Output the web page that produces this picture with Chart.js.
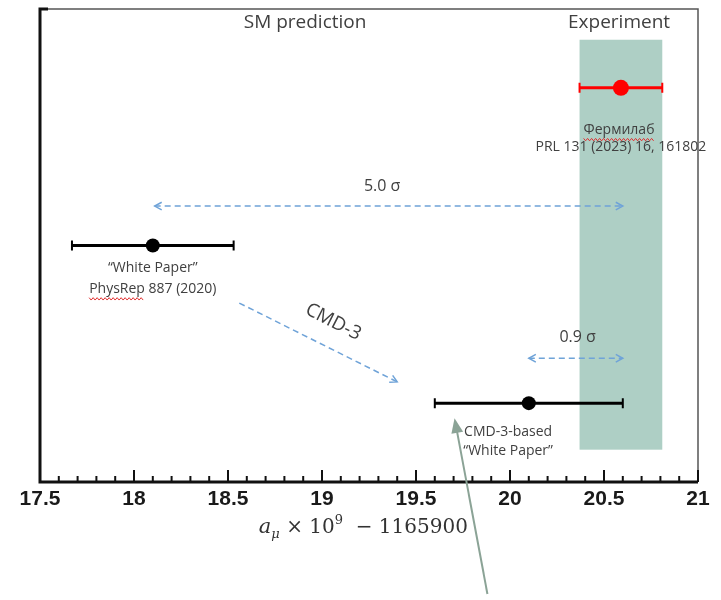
<!DOCTYPE html>
<html>
<head>
<meta charset="utf-8">
<script src="https://cdn.jsdelivr.net/npm/chart.js@4/dist/chart.umd.min.js"></script>
<style>
  body { margin: 0; background: #fff; }
  #wrap { width: 721px; height: 600px; }
</style>
</head>
<body>
<div id="wrap"><canvas id="muonChart"></canvas></div>
<script>
// x range and tick labels
const xTicks = [17.5, 18, 18.5, 19, 19.5, 20, 20.5, 21];

// results: a_mu x 10^9 - 1165900
const resultNames = ['White Paper 2020', 'Fermilab 2023', 'CMD-3-based White Paper'];
const centerValues = [18.1, 20.59, 20.1];
const errorValues = [0.43, 0.22, 0.5];
const rowPositions = [3, 5, 1];
const pointColors = ['#000000', '#ff0000', '#000000'];

// experiment band (Fermilab +- error)
const bandRange = [20.37, 20.81];
const bandRows = [0.41, 5.61];

// tension arrows
const sigmaLabels = ['5.0 σ', '0.9 σ'];
const sigmaFrom = [18.11, 20.1];
const sigmaTo = [20.6, 20.6];
const sigmaRows = [3.5, 1.57];

const FONT = '"Open Sans", "Noto Sans", sans-serif';
const TEXT = '#404040';
const BLUE = '#6fa3d8';

function dashedArrow(ctx, x1, y1, x2, y2, both) {
    ctx.save();
    ctx.strokeStyle = BLUE;
    ctx.lineWidth = 1.5;
    ctx.setLineDash([6, 4]);
    ctx.beginPath();
    ctx.moveTo(x1, y1);
    ctx.lineTo(x2, y2);
    ctx.stroke();
    ctx.setLineDash([]);
    const a = Math.atan2(y2 - y1, x2 - x1);
    const head = (x, y, ang) => {
        ctx.beginPath();
        ctx.moveTo(x - 8 * Math.cos(ang - 0.5), y - 8 * Math.sin(ang - 0.5));
        ctx.lineTo(x, y);
        ctx.lineTo(x - 8 * Math.cos(ang + 0.5), y - 8 * Math.sin(ang + 0.5));
        ctx.stroke();
    };
    head(x2, y2, a);
    if (both) head(x1, y1, a + Math.PI);
    ctx.restore();
}

function squiggle(ctx, x1, x2, y) {
    ctx.save();
    ctx.strokeStyle = '#e03030';
    ctx.lineWidth = 1;
    ctx.beginPath();
    for (let x = x1, i = 0; x <= x2; x += 2, i++) {
        const yy = y + (i % 2 ? 1.2 : -1.2);
        if (i === 0) ctx.moveTo(x, yy); else ctx.lineTo(x, yy);
    }
    ctx.stroke();
    ctx.restore();
}

const backgroundPlugin = {
    id: 'backgroundPlugin',
    beforeDatasetsDraw(chart) {
        const { ctx, scales: { x, y } } = chart;
        // experiment band
        ctx.save();
        ctx.fillStyle = '#aecfc5';
        const bx = x.getPixelForValue(bandRange[0]);
        const by = y.getPixelForValue(bandRows[1]);
        ctx.fillRect(bx, by, x.getPixelForValue(bandRange[1]) - bx, y.getPixelForValue(bandRows[0]) - by);
        ctx.restore();

        // error bars
        centerValues.forEach((c, i) => {
            const x1 = x.getPixelForValue(c - errorValues[i]);
            const x2 = x.getPixelForValue(c + errorValues[i]);
            const py = y.getPixelForValue(rowPositions[i]);
            ctx.save();
            ctx.strokeStyle = pointColors[i];
            ctx.lineWidth = 3;
            ctx.beginPath();
            ctx.moveTo(x1, py);
            ctx.lineTo(x2, py);
            ctx.stroke();
            ctx.lineWidth = 2;
            ctx.beginPath();
            ctx.moveTo(x1, py - 5); ctx.lineTo(x1, py + 5);
            ctx.moveTo(x2, py - 5); ctx.lineTo(x2, py + 5);
            ctx.stroke();
            ctx.restore();
        });
    },
    afterDraw(chart) {
        const { ctx, chartArea: ca, scales: { x, y } } = chart;

        // frame
        ctx.save();
        ctx.strokeStyle = '#555';
        ctx.lineWidth = 1.5;
        ctx.beginPath();
        ctx.moveTo(ca.left, ca.top);
        ctx.lineTo(ca.right, ca.top);
        ctx.lineTo(ca.right, ca.bottom);
        ctx.stroke();
        ctx.strokeStyle = '#111';
        ctx.lineWidth = 3;
        ctx.beginPath();
        ctx.moveTo(ca.left + 8, ca.top);
        ctx.lineTo(ca.left, ca.top);
        ctx.lineTo(ca.left, ca.bottom);
        ctx.lineTo(ca.right, ca.bottom);
        ctx.stroke();
        // ticks pointing inward
        ctx.lineWidth = 2;
        ctx.beginPath();
        for (let k = 0; k <= 35; k++) {
            const v = xTicks[0] + k * 0.1;
            const px = x.getPixelForValue(v);
            const len = k % 5 === 0 ? 12 : 6;
            ctx.moveTo(px, ca.bottom);
            ctx.lineTo(px, ca.bottom - len);
        }
        ctx.stroke();
        ctx.restore();

        // text labels
        ctx.save();
        ctx.fillStyle = TEXT;
        ctx.textAlign = 'center';
        ctx.textBaseline = 'middle';
        ctx.font = '19px ' + FONT;
        ctx.fillText('SM prediction', x.getPixelForValue(18.91), y.getPixelForValue(5.83));
        ctx.fillText('Experiment', x.getPixelForValue(20.58), y.getPixelForValue(5.83));

        ctx.font = '14px ' + FONT;
        ctx.fillText('Фермилаб', x.getPixelForValue(20.58), y.getPixelForValue(4.47));
        ctx.fillText('PRL 131 (2023) 16, 161802', x.getPixelForValue(20.59), y.getPixelForValue(4.25));
        ctx.fillText('“White Paper”', x.getPixelForValue(18.1), y.getPixelForValue(2.71));
        ctx.fillText('PhysRep 887 (2020)', x.getPixelForValue(18.1), y.getPixelForValue(2.45));
        ctx.fillText('CMD-3-based', x.getPixelForValue(19.99), y.getPixelForValue(0.63));
        ctx.fillText('“White Paper”', x.getPixelForValue(19.99), y.getPixelForValue(0.39));

        let w = ctx.measureText('Фермилаб').width;
        squiggle(ctx, x.getPixelForValue(20.58) - w / 2, x.getPixelForValue(20.58) + w / 2, y.getPixelForValue(4.47) + 10);
        w = ctx.measureText('PhysRep').width;
        const pw = ctx.measureText('PhysRep 887 (2020)').width;
        const pl = x.getPixelForValue(18.1) - pw / 2;
        squiggle(ctx, pl, pl + w, y.getPixelForValue(2.45) + 10);

        ctx.font = '16px ' + FONT;
        sigmaLabels.forEach((s, i) => {
            ctx.fillText(s, x.getPixelForValue(i === 0 ? 19.32 : 20.36), y.getPixelForValue(i === 0 ? 3.75 : 1.84));
        });

        ctx.save();
        ctx.translate(x.getPixelForValue(19.06), y.getPixelForValue(2.03));
        ctx.rotate(0.47);
        ctx.font = '19px ' + FONT;
        ctx.fillText('CMD-3', 0, 0);
        ctx.restore();
        ctx.restore();

        // blue dashed arrows
        sigmaLabels.forEach((s, i) => {
            dashedArrow(ctx, x.getPixelForValue(sigmaFrom[i]), y.getPixelForValue(sigmaRows[i]),
                x.getPixelForValue(sigmaTo[i]), y.getPixelForValue(sigmaRows[i]), true);
        });
        dashedArrow(ctx, x.getPixelForValue(18.56), y.getPixelForValue(2.27),
            x.getPixelForValue(19.4), y.getPixelForValue(1.27), false);

        // axis title
        ctx.save();
        ctx.fillStyle = '#333';
        ctx.textBaseline = 'alphabetic';
        ctx.textAlign = 'left';
        const parts = [
            ['italic 21px "DejaVu Serif", serif', 'a', 0],
            ['italic 13px "DejaVu Serif", serif', 'μ', 5],
            ['20px "DejaVu Serif", serif', ' × 10', 0],
            ['13px "DejaVu Serif", serif', '9', -9],
            ['20px "DejaVu Serif", serif', '  − 1165900', 0]
        ];
        let total = 0;
        parts.forEach(p => { ctx.font = p[0]; total += ctx.measureText(p[1]).width; });
        let tx = x.getPixelForValue(19.22) - total / 2;
        const ty = ca.bottom + 51;
        parts.forEach(p => {
            ctx.font = p[0];
            ctx.fillText(p[1], tx, ty + p[2]);
            tx += ctx.measureText(p[1]).width;
        });
        ctx.restore();

        // grey pointer arrow
        ctx.save();
        const gx1 = x.getPixelForValue(19.88), gy1 = y.getPixelForValue(-1.42);
        const gx2 = x.getPixelForValue(19.705), gy2 = y.getPixelForValue(0.81);
        const ang = Math.atan2(gy2 - gy1, gx2 - gx1);
        ctx.strokeStyle = '#8ba396';
        ctx.fillStyle = '#8ba396';
        ctx.lineWidth = 2;
        ctx.beginPath();
        ctx.moveTo(gx1, gy1);
        ctx.lineTo(gx2 - 12 * Math.cos(ang), gy2 - 12 * Math.sin(ang));
        ctx.stroke();
        ctx.beginPath();
        ctx.moveTo(gx2, gy2);
        ctx.lineTo(gx2 - 16 * Math.cos(ang - 0.38), gy2 - 16 * Math.sin(ang - 0.38));
        ctx.lineTo(gx2 - 16 * Math.cos(ang + 0.38), gy2 - 16 * Math.sin(ang + 0.38));
        ctx.closePath();
        ctx.fill();
        ctx.restore();
    }
};

new Chart(document.getElementById('muonChart'), {
    type: 'scatter',
    data: {
        datasets: [{
            label: 'a_mu',
            data: centerValues.map((c, i) => ({ x: c, y: rowPositions[i] })),
            pointRadius: [7, 8, 7],
            pointBackgroundColor: pointColors,
            pointBorderColor: pointColors,
            pointBorderWidth: 0
        }]
    },
    options: {
        responsive: true,
        maintainAspectRatio: false,
        animation: false,
        layout: { padding: { left: 40, right: 23, top: 9, bottom: 0 } },
        plugins: {
            legend: { display: false },
            tooltip: { enabled: false }
        },
        scales: {
            x: {
                type: 'linear',
                min: xTicks[0],
                max: xTicks[xTicks.length - 1],
                afterFit(scale) { scale.height = 118; },
                afterBuildTicks(scale) { scale.ticks = xTicks.map(v => ({ value: v })); },
                grid: { display: false, drawTicks: false },
                border: { display: false },
                ticks: {
                    padding: 5,
                    color: '#1a1a1a',
                    font: { family: '"Liberation Sans", Arial, sans-serif', size: 21, weight: 'bold' },
                    callback: v => String(v)
                }
            },
            y: {
                type: 'linear',
                display: false,
                min: 0,
                max: 6
            }
        }
    },
    plugins: [backgroundPlugin]
});
</script>
</body>
</html>
